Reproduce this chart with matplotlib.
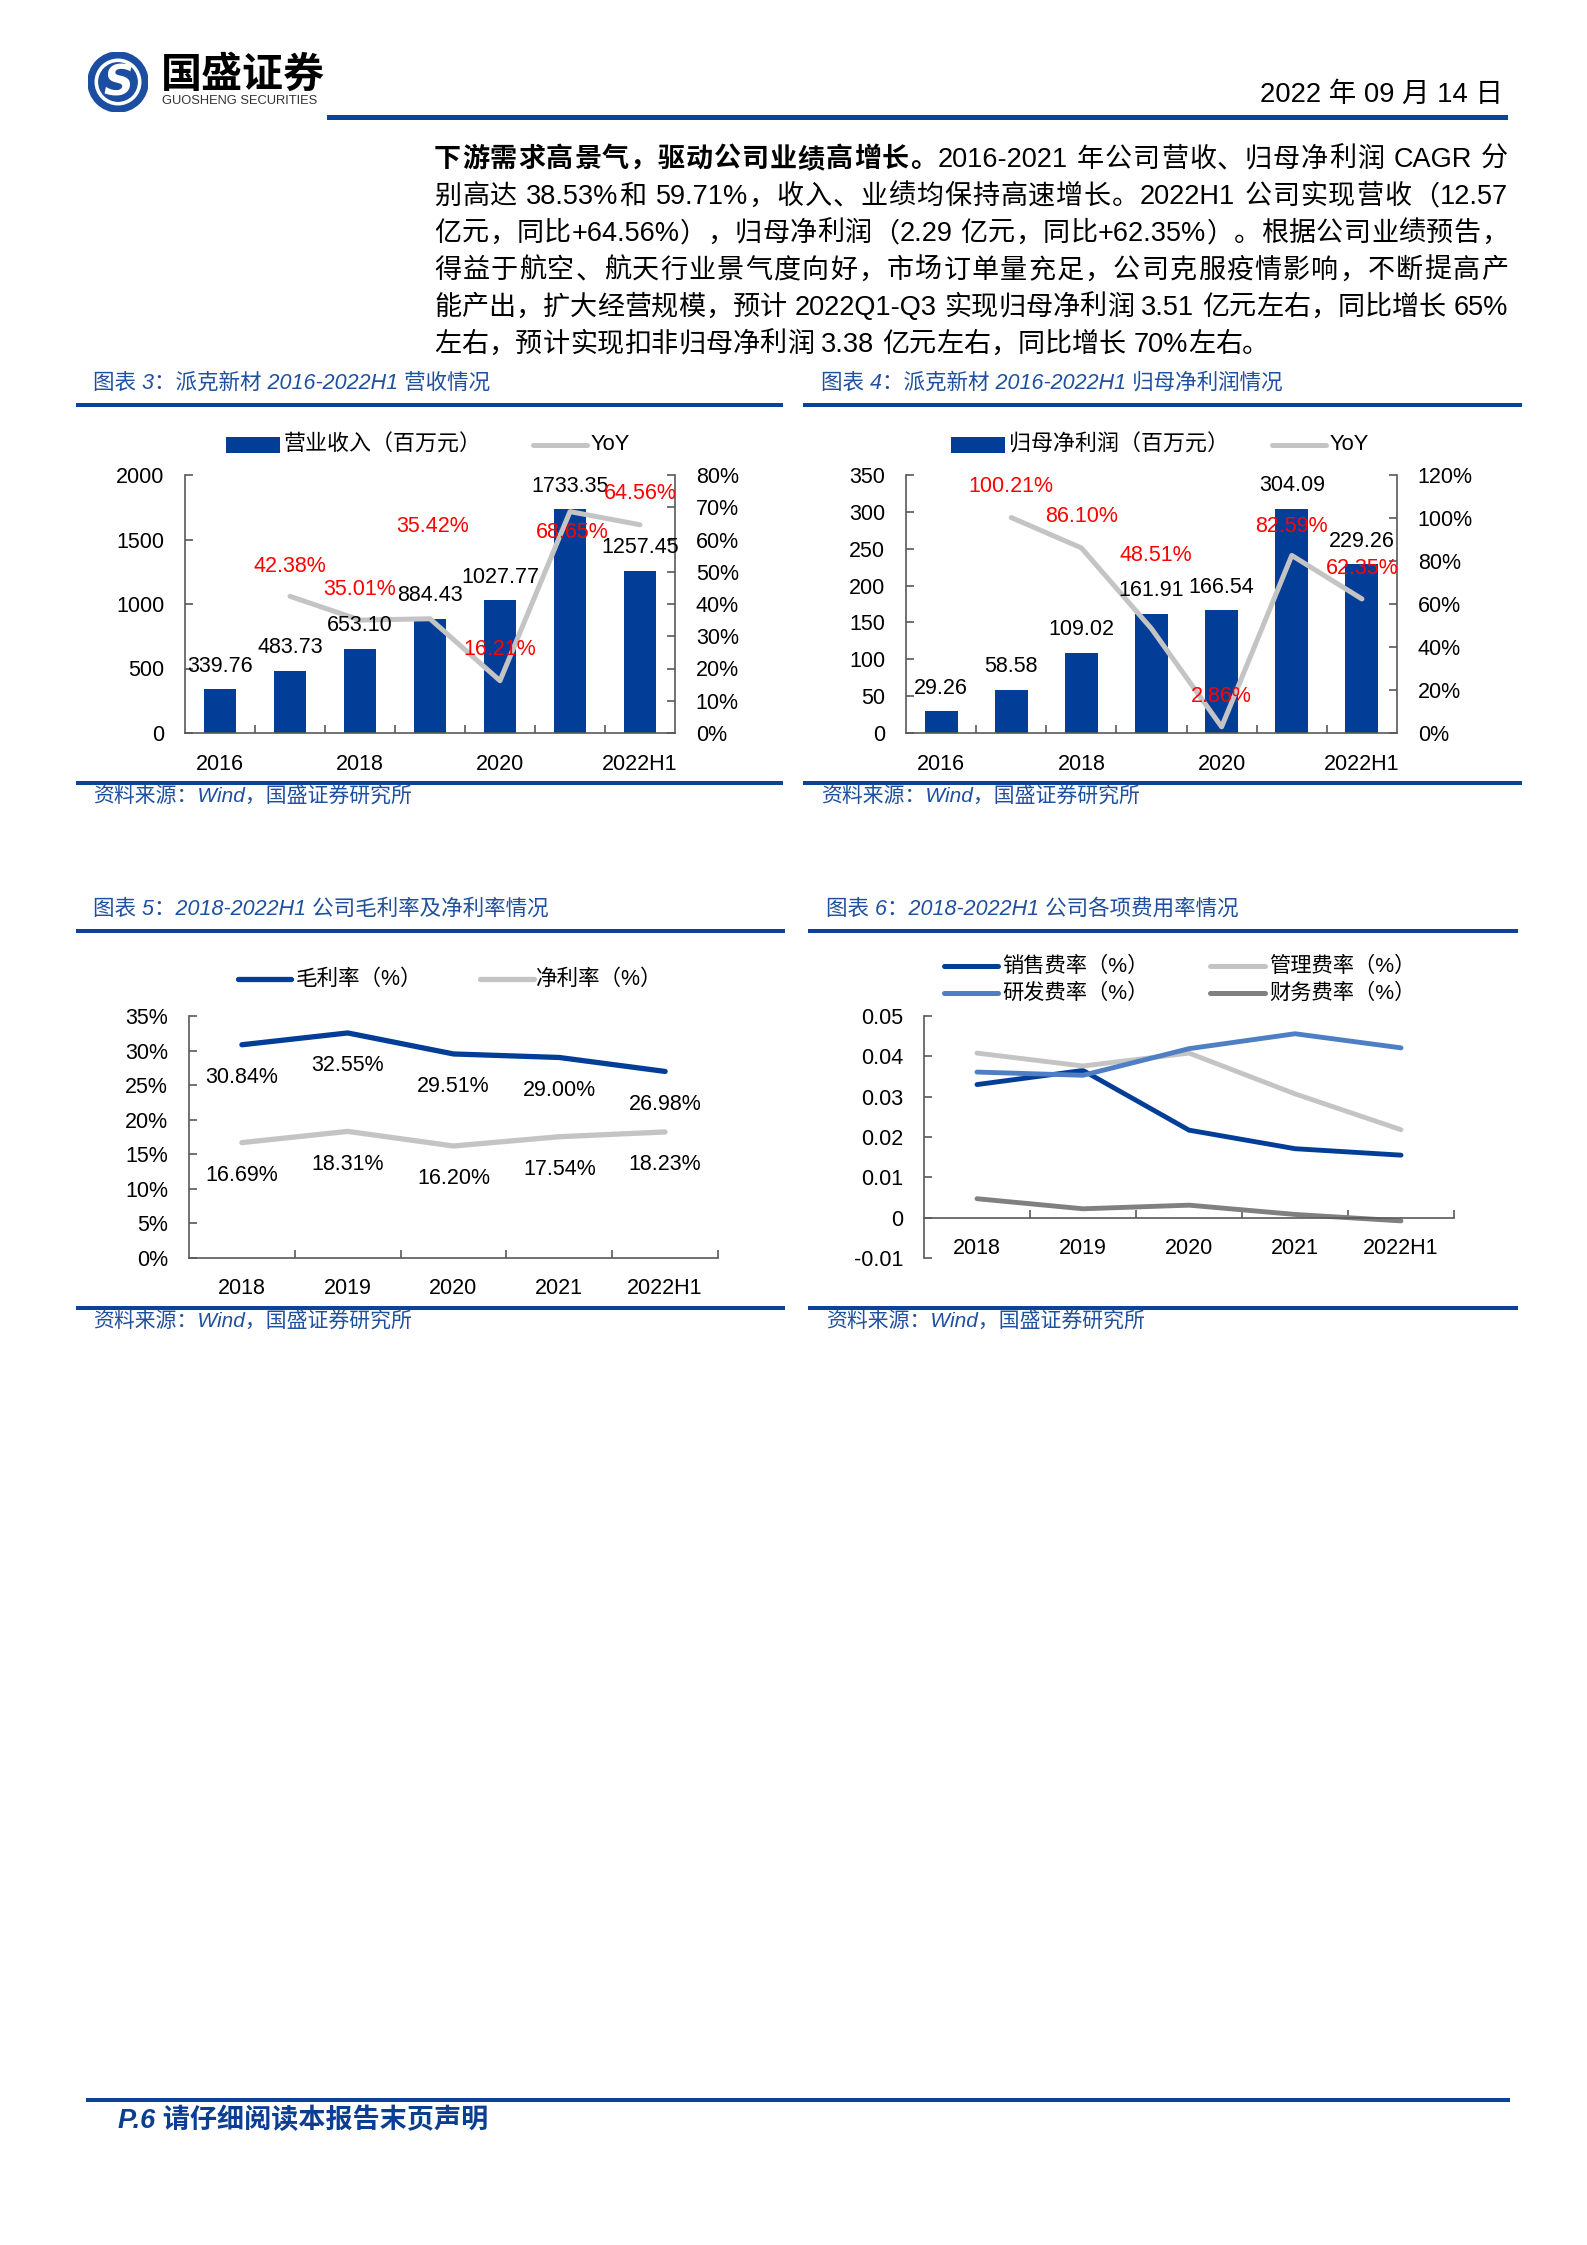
import re
import numpy as np
import matplotlib
matplotlib.use('Agg')
import matplotlib.pyplot as plt
from matplotlib.font_manager import FontProperties
from matplotlib.patches import Rectangle, Circle
from matplotlib.lines import Line2D
from matplotlib.ticker import FuncFormatter

W, H = 1587, 2245
FAM = ['Liberation Sans', 'Noto Sans CJK SC']
plt.rcParams['font.family'] = FAM
plt.rcParams['axes.unicode_minus'] = False

# ---------------- data ----------------
years_a = ['2016', '2017', '2018', '2019', '2020', '2021', '2022H1']
revenue = [339.76, 483.73, 653.10, 884.43, 1027.77, 1733.35, 1257.45]
revenue_yoy = [np.nan, 42.38, 35.01, 35.42, 16.21, 68.65, 64.56]
net_profit = [29.26, 58.58, 109.02, 161.91, 166.54, 304.09, 229.26]
net_profit_yoy = [np.nan, 100.21, 86.10, 48.51, 2.86, 82.59, 62.35]

years_b = ['2018', '2019', '2020', '2021', '2022H1']
gross_margin = [30.84, 32.55, 29.51, 29.00, 26.98]
net_margin = [16.69, 18.31, 16.20, 17.54, 18.23]

sales_rate = [0.0330, 0.0365, 0.0217, 0.0171, 0.0155]
admin_rate = [0.0408, 0.0376, 0.0408, 0.0307, 0.0218]
rd_rate = [0.0361, 0.0353, 0.0419, 0.0456, 0.0421]
fin_rate = [0.0047, 0.0022, 0.0031, 0.0008, -0.0008]
rate_ticks = [-0.01, 0, 0.01, 0.02, 0.03, 0.04, 0.05]
rate_tick_labels = ['-0.01', '0', '0.01', '0.02', '0.03', '0.04', '0.05']

# ---------------- style ----------------
BAR_C = '#023E98'
GREY = '#C4C4C4'
DGREY = '#808080'
MBLUE = '#4E7FC4'
TITLE_C = '#1F4F9F'
RULE_C = '#0B439B'
AX_C = '#595959'
FS = 15.5

fig = plt.figure(figsize=(W / 100, H / 100), dpi=100)
renderer = fig.canvas.get_renderer()


def fx(x):
    return x / W


def fy(y):
    return 1 - y / H


def add_axes_px(l, t, r, b):
    return fig.add_axes([fx(l), fy(b), (r - l) / W, (b - t) / H])


def rule(x0, x1, y0, y1, color=RULE_C):
    fig.add_artist(Rectangle((fx(x0), fy(y1)), (x1 - x0) / W, (y1 - y0) / H,
                             transform=fig.transFigure, color=color, lw=0))


def ftext(x, y, s, **kw):
    kw.setdefault('va', 'center')
    return fig.text(fx(x), fy(y), s, **kw)


def leg_line(x0, x1, y, color, lw):
    fig.add_artist(Line2D([fx(x0), fx(x1)], [fy(y), fy(y)], transform=fig.transFigure,
                          color=color, lw=lw, solid_capstyle='round'))


def style_axes(ax, spines_on):
    for k, sp in ax.spines.items():
        sp.set_visible(k in spines_on)
        sp.set_color(AX_C)
        sp.set_linewidth(1.2)
    ax.tick_params(axis='both', which='major', direction='in', length=6, width=1.2,
                   color=AX_C, labelsize=FS, labelcolor='black')
    ax.tick_params(axis='both', which='minor', length=0, labelsize=FS, labelcolor='black')


# ---------------- header ----------------
axl = fig.add_axes([fx(88), fy(112), 60 / W, 60 / H])
axl.set_xlim(-1, 1)
axl.set_ylim(-1, 1)
axl.axis('off')
axl.add_patch(Circle((0, 0), 1.0, color='#1B4DA0'))
axl.add_patch(Circle((0, 0), 0.76, color='white'))
axl.add_patch(Circle((0, 0), 0.64, color='#1B4DA0'))
axl.text(0, -0.05, 'S', color='white', fontsize=30, fontweight='bold', ha='center', va='center',
         family='DejaVu Sans', style='italic')

ftext(161, 75, '国盛证券', fontsize=29.5, fontweight='bold', color='black', ha='left',
      family=['Noto Sans CJK SC'])
ftext(162, 101, 'GUOSHENG SECURITIES', fontsize=9.3, color='#333333', ha='left')
ftext(1503, 95, '2022 年 09 月 14 日', fontsize=19.8, color='black', ha='right')
rule(327, 1508, 115, 120)

# ---------------- paragraph (justified) ----------------
PARA_L, PARA_R = 434, 1508
para_baselines = [167, 204, 241, 278, 315, 352]
para_lines = [
    [('下游需求高景气，驱动公司业绩高增长。', True), ('2016-2021 年公司营收、归母净利润 CAGR 分', False)],
    [('别高达 38.53%和 59.71%，收入、业绩均保持高速增长。2022H1 公司实现营收（12.57', False)],
    [('亿元，同比+64.56%），归母净利润（2.29 亿元，同比+62.35%）。根据公司业绩预告，', False)],
    [('得益于航空、航天行业景气度向好，市场订单量充足，公司克服疫情影响，不断提高产', False)],
    [('能产出，扩大经营规模，预计 2022Q1-Q3 实现归母净利润 3.51 亿元左右，同比增长 65%', False)],
    [('左右，预计实现扣非归母净利润 3.38 亿元左右，同比增长 70%左右。', False)],
]
fp_reg = FontProperties(family=FAM, size=19.5)
fp_bold = FontProperties(family=FAM, size=19.5, weight='bold')
_cache = {}


def text_w(s, fp):
    key = (s, fp.get_weight())
    if key not in _cache:
        t = fig.text(0, 0, s, fontproperties=fp)
        _cache[key] = t.get_window_extent(renderer).width
        t.remove()
    return _cache[key]


def advance(tok, fp):
    ref = '国'
    return text_w(ref + tok + ref, fp) - text_w(ref + ref, fp)


for li, (segs, yb) in enumerate(zip(para_lines, para_baselines)):
    toks = []
    for s, bold in segs:
        fp = fp_bold if bold else fp_reg
        for tk in re.findall(r'[A-Za-z0-9.%+\-]+|\s|.', s):
            toks.append((tk, fp, advance(tk, fp)))
    total = sum(t[2] for t in toks)
    justify = li < len(para_lines) - 1
    gap = (PARA_R - PARA_L - total) / (len(toks) - 1) if justify else 0.0
    x = PARA_L
    for tk, fp, adv in toks:
        if tk.strip():
            fig.text(fx(x), fy(yb), tk, fontproperties=fp, ha='left', va='baseline', color='black')
        x += adv + gap


# ---------------- bar + line charts ----------------
def bar_chart(box, cats, vals, yoy, ymax, ystep, y2max, y2step, yoy_offsets):
    l, t, r, b = box
    ax = add_axes_px(l, t, r, b)
    x = np.arange(len(cats))
    ax.bar(x, vals, width=0.47, color=BAR_C, zorder=2)
    ax.set_xlim(-0.5, len(cats) - 0.5)
    ax.set_ylim(0, ymax)
    ax.set_yticks(np.arange(0, ymax + 1, ystep))
    ax.set_xticks(np.arange(0.5, len(cats) - 1, 1))
    ax.set_xticklabels([])
    ax.set_xticks(x, labels=[c if i % 2 == 0 else '' for i, c in enumerate(cats)], minor=True)
    style_axes(ax, ['left', 'bottom'])
    ax.tick_params(axis='x', which='minor', pad=15)
    ax.tick_params(axis='y', pad=15)
    ax2 = ax.twinx()
    ax2.plot(x, yoy, color=GREY, lw=3.6, solid_joinstyle='round', solid_capstyle='round', zorder=3)
    ax2.set_ylim(0, y2max)
    ax2.set_yticks(np.arange(0, y2max + 1, y2step))
    ax2.yaxis.set_major_formatter(FuncFormatter(lambda v, p: f'{v:.0f}%'))
    style_axes(ax2, ['right'])
    ax2.tick_params(axis='y', pad=15)
    for i, v in enumerate(vals):
        ax2.annotate(f'{v:.2f}', xy=(x[i], v), xycoords=ax.transData, xytext=(0, 23),
                     textcoords='offset pixels', ha='center', va='center', fontsize=FS,
                     color='black', zorder=5)
    k = 0
    for i, v in enumerate(yoy):
        if np.isnan(v):
            continue
        dx, dy = yoy_offsets[k]
        k += 1
        ax2.annotate(f'{v:.2f}%', xy=(x[i], v), xytext=(dx, dy), textcoords='offset pixels',
                     ha='center', va='center', fontsize=FS, color='#FF0000', zorder=6)
    return ax, ax2


# chart 3
ftext(93, 383, '图表 3：派克新材 2016-2022H1 营收情况', fontsize=15.5, color=TITLE_C, ha='left', style='italic')
rule(76, 783, 403, 407)
fig.add_artist(Rectangle((fx(226), fy(453)), 54 / W, 16 / H, transform=fig.transFigure, color=BAR_C, lw=0))
ftext(284, 445, '营业收入（百万元）', fontsize=15.8, ha='left')
leg_line(533, 587, 445, GREY, 3.6)
ftext(591, 445, 'YoY', fontsize=15.8, ha='left')
bar_chart((185, 475, 675, 733), years_a, revenue, revenue_yoy, 2000, 500, 80, 10,
          [(0, 30), (0, 31), (3, 92), (0, 31), (2, -21), (0, 31)])
rule(76, 783, 781, 785)
ftext(93, 797, '资料来源：Wind，国盛证券研究所', fontsize=15, color=TITLE_C, ha='left', style='italic')

# chart 4
ftext(821, 383, '图表 4：派克新材 2016-2022H1 归母净利润情况', fontsize=15.5, color=TITLE_C, ha='left', style='italic')
rule(803, 1522, 403, 407)
fig.add_artist(Rectangle((fx(951), fy(453)), 54 / W, 16 / H, transform=fig.transFigure, color=BAR_C, lw=0))
ftext(1009, 445, '归母净利润（百万元）', fontsize=15.8, ha='left')
leg_line(1272, 1326, 445, GREY, 3.6)
ftext(1330, 445, 'YoY', fontsize=15.8, ha='left')
bar_chart((906, 475, 1397, 733), years_a, net_profit, net_profit_yoy, 350, 50, 120, 20,
          [(0, 31), (0, 31), (4, 73), (0, 30), (0, 29), (0, 30)])
rule(803, 1522, 781, 785)
ftext(821, 797, '资料来源：Wind，国盛证券研究所', fontsize=15, color=TITLE_C, ha='left', style='italic')

# chart 5
ftext(93, 909, '图表 5：2018-2022H1 公司毛利率及净利率情况', fontsize=15.5, color=TITLE_C, ha='left', style='italic')
rule(76, 785, 929, 933)
leg_line(238, 291, 979, BAR_C, 3.8)
ftext(296, 979, '毛利率（%）', fontsize=15.5, ha='left')
leg_line(480, 534, 979, GREY, 3.8)
ftext(536, 979, '净利率（%）', fontsize=15.5, ha='left')

ax5 = add_axes_px(189, 1016, 718, 1258)
xb = np.arange(len(years_b))
ax5.plot(xb, gross_margin, color=BAR_C, lw=3.8, solid_joinstyle='round', solid_capstyle='round')
ax5.plot(xb, net_margin, color=GREY, lw=3.8, solid_joinstyle='round', solid_capstyle='round')
ax5.set_xlim(-0.5, len(years_b) - 0.5)
ax5.set_ylim(0, 35)
ax5.set_yticks(np.arange(0, 36, 5))
ax5.yaxis.set_major_formatter(FuncFormatter(lambda v, p: f'{v:.0f}%'))
ax5.set_xticks(np.arange(0.5, len(years_b), 1))
ax5.set_xticklabels([])
ax5.set_xticks(xb, labels=years_b, minor=True)
style_axes(ax5, ['left', 'bottom'])
ax5.tick_params(axis='x', which='minor', pad=14.5)
ax5.tick_params(axis='y', pad=15)
for series in (gross_margin, net_margin):
    for i, v in enumerate(series):
        ax5.annotate(f'{v:.2f}%', xy=(xb[i], v), xytext=(0, -33), textcoords='offset pixels',
                     ha='center', va='center', fontsize=FS, color='black')
rule(76, 785, 1306, 1310)
ftext(93, 1322, '资料来源：Wind，国盛证券研究所', fontsize=15, color=TITLE_C, ha='left', style='italic')

# chart 6
ftext(826, 909, '图表 6：2018-2022H1 公司各项费用率情况', fontsize=15.5, color=TITLE_C, ha='left', style='italic')
rule(808, 1518, 929, 933)
series6 = [('销售费率（%）', sales_rate, BAR_C), ('管理费率（%）', admin_rate, GREY),
           ('研发费率（%）', rd_rate, MBLUE), ('财务费率（%）', fin_rate, DGREY)]
leg_pos = [(944, 998, 1002, 966), (1210, 1265, 1269, 966), (944, 998, 1002, 993), (1210, 1265, 1269, 993)]
for (name, vals, col), (lx0, lx1, tx, ly) in zip(series6, leg_pos):
    leg_line(lx0, lx1, ly, col, 3.6)
    ftext(tx, ly, name, fontsize=15.3, ha='left')

ax6 = add_axes_px(924, 1016, 1454, 1258)
for name, vals, col in series6:
    ax6.plot(xb, vals, color=col, lw=3.5, solid_joinstyle='round', solid_capstyle='round')
ax6.set_xlim(-0.5, len(years_b) - 0.5)
ax6.set_ylim(-0.01, 0.05)
ax6.set_yticks(rate_ticks, labels=rate_tick_labels)
ax6.set_xticks(np.arange(0.5, len(years_b), 1))
ax6.set_xticklabels([])
ax6.set_xticks(xb, labels=years_b, minor=True)
style_axes(ax6, ['left', 'bottom'])
ax6.spines['bottom'].set_position(('data', 0))
ax6.tick_params(axis='x', which='minor', pad=14.5)
ax6.tick_params(axis='y', pad=15)
rule(808, 1518, 1306, 1310)
ftext(826, 1322, '资料来源：Wind，国盛证券研究所', fontsize=15, color=TITLE_C, ha='left', style='italic')

# ---------------- footer ----------------
rule(86, 1510, 2098, 2102)
ftext(118, 2121, 'P.6 请仔细阅读本报告末页声明', fontsize=19.5, color='#0A3E93', ha='left',
      fontweight='bold', style='italic')

fig.savefig('out.png', dpi=100)
